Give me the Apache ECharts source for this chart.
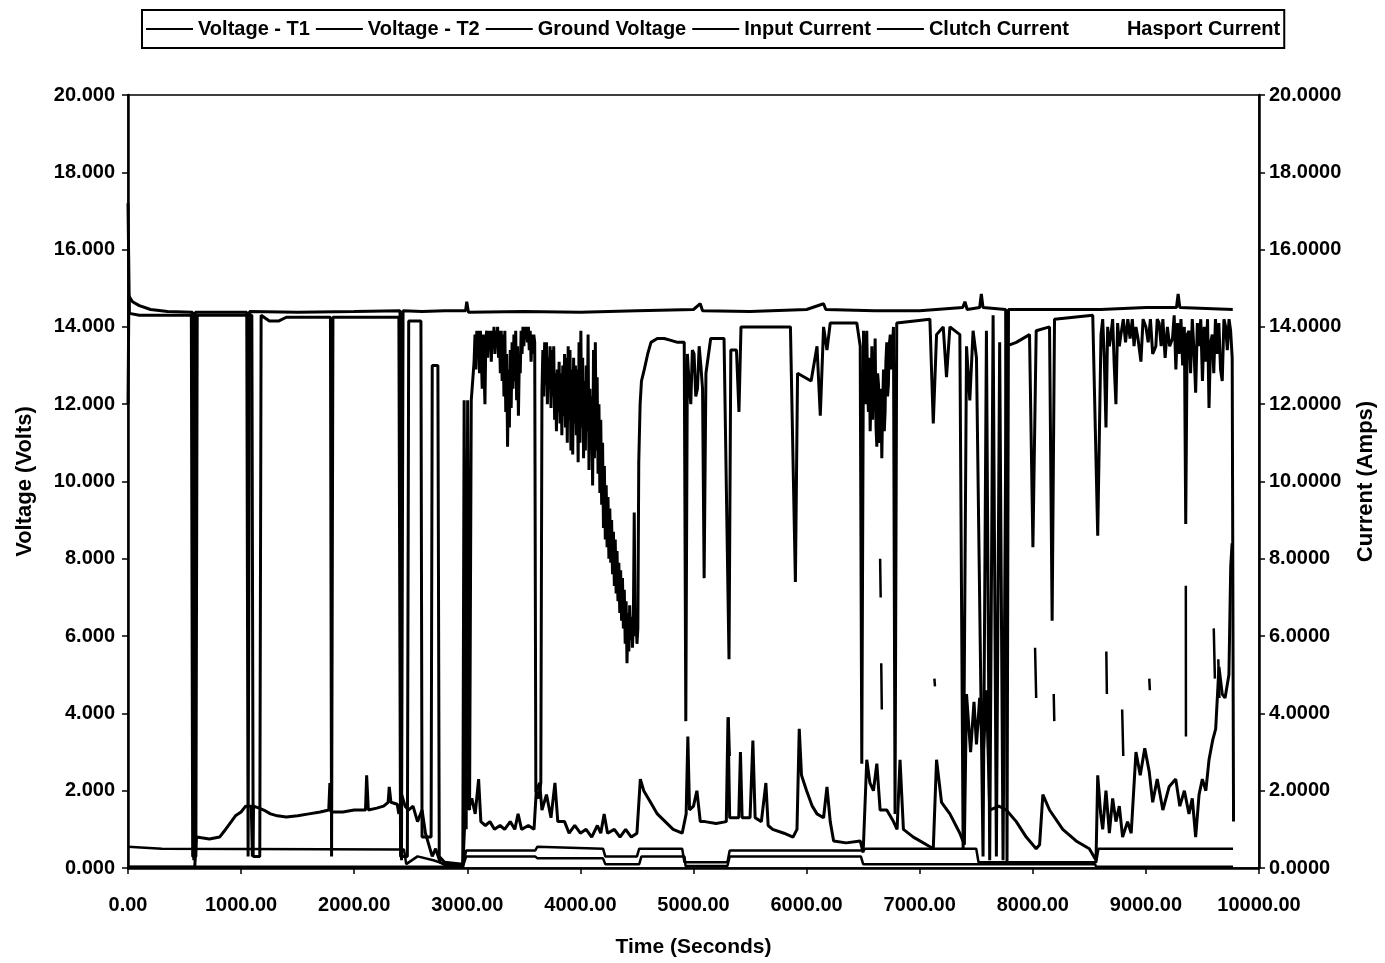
<!DOCTYPE html>
<html>
<head>
<meta charset="utf-8">
<script src="https://cdn.jsdelivr.net/npm/echarts@6/dist/echarts.min.js"></script>
<style>
html,body{margin:0;padding:0;background:#fff;}
#chart{width:1385px;height:963px;}
</style>
</head>
<body>
<div id="chart"></div>
<script>
// ---- data (time in seconds, values in volts / amps) ----
const seriesNames = ['Voltage - T1', 'Voltage - T2', 'Ground Voltage', 'Input Current', 'Clutch Current', 'Hasport Current'];

const voltageT1 = [
[0,12.0],[8,14.8],[40,14.65],[100,14.55],[200,14.45],[350,14.4],[570,14.38],[582,0.2],[595,14.38],
[1050,14.38],[1062,0.3],[1075,14.4],[1500,14.38],[2000,14.4],[2405,14.42],[2418,0.2],[2432,14.42],
[2600,14.4],[2800,14.42],[2985,14.42],[2995,14.65],[3010,14.38],[3500,14.4],[4000,14.38],[4500,14.42],
[5000,14.45],[5060,14.6],[5080,14.42],[5500,14.4],[6000,14.45],[6150,14.6],[6170,14.45],[6600,14.42],
[7000,14.42],[7380,14.5],[7400,14.65],[7420,14.45],[7530,14.5],[7545,14.85],[7560,14.5],[7760,14.45],
[7772,0.1],[7785,14.45],[8200,14.45],[8600,14.45],[9000,14.5],[9270,14.5],[9285,14.85],[9300,14.5],[9768,14.45]
];

const voltageT2 = [
[0,17.2],[12,14.35],[100,14.3],[560,14.3],[572,0.3],[600,0.3],[612,14.3],[1095,14.3],[1107,0.3],[1165,0.3],
[1177,14.3],[1250,14.15],[1330,14.15],[1400,14.25],[1790,14.25],[1800,0.3],[1812,14.25],[2395,14.25],[2410,0.3],
[2470,0.3],[2482,14.15],[2590,14.15],[2600,0.8],[2680,0.8],[2690,13.0],[2740,13.0],[2752,0.3],[2800,0.15],
[2960,0.1],[2972,12.1],[2990,1.0],[3003,12.1],[3020,1.5],[3035,12.1],
[3060,13.1],[3068,13.8],[3076,12.9],[3084,13.9],[3092,13.3],[3100,13.9],[3108,12.8],[3116,13.9],[3124,13.2],
[3132,12.4],[3140,13.8],[3148,12.9],[3156,12.0],[3164,13.7],[3172,13.9],[3180,13.2],[3188,13.9],[3196,13.4],
[3204,13.9],[3212,13.1],[3220,13.9],[3228,13.5],[3236,14.0],[3244,13.3],[3252,13.9],[3260,13.5],[3268,14.0],
[3276,13.2],[3284,13.9],[3292,12.8],[3300,13.9],[3308,12.6],[3316,13.8],[3324,12.2],[3332,13.9],[3340,11.8],
[3348,13.3],[3356,10.9],[3364,12.9],[3372,11.4],[3380,13.4],[3388,11.9],[3396,13.6],[3404,12.4],[3412,13.8],
[3420,12.6],[3428,13.9],[3436,12.1],[3444,13.5],[3452,11.7],[3460,13.2],[3468,12.8],[3476,13.9],[3484,13.3],
[3492,14.0],[3500,13.5],[3508,14.0],[3516,13.7],[3524,14.0],[3532,13.6],[3540,14.0],[3548,13.4],[3556,13.9],
[3564,13.1],[3572,13.8],[3580,13.3],[3588,13.8],[3596,13.6],[3606,2.0],[3630,1.8],[3650,2.2],
[3660,12.3],[3668,13.4],[3676,12.2],[3684,13.6],[3692,12.5],[3700,13.6],[3708,12.0],[3716,13.2],[3724,12.4],
[3732,13.5],[3740,11.9],[3748,13.4],[3756,12.2],[3764,13.5],[3772,11.6],[3780,12.8],[3788,11.3],[3796,12.9],
[3804,11.8],[3812,13.1],[3820,11.5],[3828,12.8],[3836,11.2],[3844,13.0],[3852,11.7],[3860,13.3],[3868,11.4],
[3876,13.2],[3884,11.0],[3892,13.5],[3900,11.6],[3908,13.4],[3916,10.8],[3924,12.9],[3932,10.7],[3940,13.2],
[3948,11.5],[3956,13.0],[3964,11.2],[3972,12.9],[3980,10.5],[3988,13.6],[3996,11.0],[4004,13.9],[4012,11.4],
[4020,13.2],[4028,10.6],[4036,12.6],[4044,10.8],[4052,13.0],[4060,11.3],[4068,13.8],[4076,10.3],[4084,12.4],
[4092,10.9],[4100,12.2],[4108,9.9],[4116,13.4],[4124,10.6],[4132,13.6],[4140,10.8],[4148,12.7],[4156,10.2],
[4164,12.0],[4172,9.7],[4180,11.6],[4188,9.4],[4196,11.0],[4204,8.8],[4212,10.4],[4220,8.5],[4228,9.9],
[4236,8.3],[4244,9.6],[4252,8.0],[4260,9.3],[4268,7.9],[4276,9.0],[4284,7.6],[4292,8.7],[4300,7.3],[4308,8.5],
[4316,7.1],[4324,8.2],[4332,6.9],[4340,7.9],[4348,6.6],[4356,7.7],[4364,6.4],[4372,7.5],[4380,6.2],[4388,7.2],
[4396,5.8],[4404,6.9],[4412,5.3],[4420,6.6],[4428,5.6],[4436,6.8],[4444,5.9],[4452,6.5],[4460,5.7],[4468,6.3],
[4476,9.2],[4484,6.0],[4492,6.6],[4500,5.8],[4508,6.2],[4516,10.5],[4528,12.0],[4540,12.6],[4565,12.9],
[4595,13.3],[4624,13.6],[4680,13.7],[4741,13.7],[4800,13.65],[4859,13.6],[4918,13.6],[4932,3.8],[4946,13.3],
[4960,12.6],[4976,12.0],[4990,13.4],[5005,13.3],[5020,12.2],[5035,12.4],[5050,13.5],[5065,13.0],[5080,12.4],
[5094,7.5],[5110,12.8],[5152,13.7],[5270,13.7],[5314,5.4],
[5330,13.4],[5380,13.4],[5402,11.8],[5420,14.0],[5681,14.0],[5857,14.0],[5901,7.4],[5920,12.8],[6040,12.6],
[6092,13.5],[6121,11.7],[6150,14.0],[6180,13.4],[6209,14.1],[6444,14.1],[6474,13.5],[6488,2.7],[6503,13.9],
[6510,12.4],[6518,12.0],[6525,13.6],[6532,13.9],[6540,12.3],[6547,11.8],[6555,13.2],[6562,11.3],[6570,12.2],
[6577,13.5],[6584,11.6],[6591,12.7],[6598,11.9],[6606,13.7],[6614,11.4],[6621,10.9],[6628,12.8],[6636,12.5],
[6643,11.0],[6650,11.2],[6657,12.4],[6665,10.6],[6672,11.9],[6680,12.9],[6687,11.3],[6694,11.8],[6701,13.1],
[6709,13.6],[6716,12.2],[6723,12.5],[6730,13.5],[6740,13.8],[6748,12.9],[6755,13.2],[6768,14.0],
[6782,1.4],[6797,14.1],[7090,14.2],[7120,11.5],[7149,13.8],[7208,14.0],[7237,12.7],[7267,14.0],[7355,13.8],
[7384,0.5],[7414,13.5],[7443,12.1],[7472,13.9],[7502,13.2],[7560,0.3],[7590,13.9],[7619,0.2],[7649,14.3],
[7678,0.3],[7707,13.6],[7737,0.2],[7766,13.5],[7854,13.6],[7971,13.8],[8001,8.3],[8030,13.9],[8148,14.0],
[8171,6.4],[8192,14.2],[8530,14.3],[8574,8.6],[8603,13.8],[8618,14.2],[8632,13.2],[8647,11.4],[8662,14.0],
[8677,13.5],[8691,13.8],[8706,14.2],[8720,13.0],[8735,12.0],[8750,14.1],[8765,13.5],[8779,13.8],[8800,14.2],
[8820,13.6],[8840,14.2],[8860,13.7],[8880,14.2],[8895,13.5],[8912,14.0],[8930,13.7],[8956,13.1],[8975,14.2],
[9000,14.0],[9020,13.6],[9040,14.2],[9060,13.3],[9088,13.5],[9100,14.2],[9117,14.1],[9135,13.5],[9150,14.2],
[9170,13.2],[9190,14.0],[9210,13.5],[9235,13.7],[9250,14.3],[9265,12.9],[9280,14.1],[9293,13.3],[9310,14.2],
[9325,13.0],[9340,14.0],[9352,8.9],[9365,13.8],[9381,13.9],[9395,12.8],[9410,14.2],[9425,13.4],[9440,12.3],
[9455,14.1],[9470,13.5],[9485,14.2],[9500,12.6],[9515,14.0],[9530,13.1],[9545,14.2],[9558,11.9],[9572,13.6],
[9587,13.8],[9600,12.8],[9615,14.2],[9630,13.3],[9645,14.1],[9660,12.9],[9675,12.6],[9690,14.2],[9705,14.0],
[9720,13.4],[9735,14.2],[9749,13.9],[9763,13.2],[9775,1.2]
];

const groundVoltage = [
[0,0.55],[300,0.5],[2440,0.48],[2460,0.1],[2560,0.3],[2700,0.2],[2800,0.1],[2960,0.05],[2990,0.45],
[3600,0.45],[3620,0.55],[4200,0.5],[4220,0.3],[4500,0.3],[4520,0.5],[4900,0.5],[4920,0.15],[5300,0.15],
[5320,0.45],[6500,0.45],[6520,0.5],[7500,0.5],[7520,0.15],[8560,0.15],[8580,0.5],[9770,0.5]
];

const inputCurrent = [
[0,0.02],[590,0.02],[605,0.8],[650,0.78],[720,0.75],[810,0.8],[850,0.95],[900,1.15],[950,1.35],[1000,1.45],
[1040,1.6],[1090,1.6],[1100,0.3],[1110,1.6],[1160,1.55],[1200,1.5],[1260,1.4],[1320,1.35],[1400,1.32],
[1500,1.35],[1600,1.4],[1700,1.45],[1775,1.5],[1785,2.2],[1795,1.45],[1900,1.45],[2000,1.5],[2100,1.5],
[2110,2.4],[2125,1.5],[2200,1.55],[2260,1.6],[2300,1.7],[2310,2.1],[2325,1.7],[2380,1.65],[2395,1.4],
[2420,1.9],[2450,1.6],[2480,1.5],[2520,1.6],[2560,1.2],[2600,1.5],[2630,0.9],[2660,0.6],[2690,0.3],
[2720,0.5],[2760,0.15],[2820,0.05],[2960,0.02],[2975,1.0],[2990,2.4],[3010,1.5],[3040,1.8],[3070,1.4],
[3100,2.3],[3120,1.2],[3160,1.1],[3200,1.2],[3240,1.0],[3290,1.1],[3330,1.0],[3380,1.2],[3420,1.0],
[3449,1.4],[3480,1.0],[3540,1.1],[3590,1.0],[3610,2.0],[3640,2.2],[3660,1.5],[3700,1.9],[3740,1.3],
[3775,2.2],[3800,1.2],[3860,1.2],[3900,0.9],[3950,1.1],[4000,0.9],[4050,1.0],[4100,0.8],[4150,1.1],
[4180,0.9],[4210,1.4],[4240,0.9],[4300,1.0],[4350,0.8],[4400,1.0],[4450,0.8],[4500,0.9],[4530,2.3],
[4560,2.0],[4620,1.7],[4680,1.4],[4750,1.2],[4820,1.0],[4900,0.9],[4935,1.4],[4950,3.4],[4965,1.5],
[5000,1.6],[5030,2.0],[5060,1.2],[5100,1.2],[5200,1.15],[5290,1.2],[5305,3.9],[5320,1.3],[5400,1.3],
[5415,3.0],[5430,1.3],[5500,1.3],[5525,3.3],[5545,1.3],[5600,1.2],[5640,2.2],[5660,1.1],[5700,1.0],
[5800,0.9],[5880,0.8],[5915,1.0],[5935,3.6],[5955,2.4],[6000,2.0],[6050,1.6],[6092,1.4],[6150,1.3],
[6180,2.1],[6209,1.2],[6239,0.7],[6350,0.65],[6474,0.7],[6500,0.4],[6532,2.8],[6560,2.2],[6591,2.0],
[6621,2.7],[6650,1.5],[6709,1.5],[6768,1.2],[6800,1.0],[6826,2.8],[6856,1.0],[6944,0.8],[7061,0.6],
[7120,0.5],[7149,2.8],[7193,1.7],[7267,1.4],[7355,0.9],[7395,0.6],[7414,4.5],[7450,3.0],[7480,4.3],
[7502,3.2],[7530,4.4],[7560,2.8],[7590,4.6],[7619,1.5],[7700,1.6],[7766,1.5],[7854,1.2],[7942,0.8],
[8030,0.5],[8060,0.6],[8089,1.9],[8148,1.5],[8265,1.0],[8383,0.7],[8500,0.5],[8559,0.2],[8574,2.4],
[8600,1.4],[8618,1.0],[8647,2.0],[8677,0.9],[8706,1.8],[8735,1.2],[8765,1.6],[8794,0.8],[8838,1.2],
[8870,0.9],[8912,3.0],[8950,2.4],[8990,3.1],[9029,2.5],[9060,1.7],[9100,2.3],[9150,1.5],[9205,2.1],
[9264,2.3],[9300,1.6],[9340,2.0],[9381,1.4],[9410,1.8],[9440,0.8],[9470,1.9],[9499,2.3],[9530,2.0],
[9558,2.8],[9590,3.3],[9617,3.6],[9646,5.2],[9675,4.5],[9700,4.4],[9734,5.0],[9750,7.8],[9762,8.4]
];

const clutchCurrent = [
[0,0.03],[2960,0.03],[2990,0.3],[3600,0.3],[3620,0.25],[4200,0.25],[4220,0.1],[4520,0.1],[4540,0.3],
[4920,0.3],[4930,0.05],[5300,0.05],[5320,0.3],[6480,0.3],[6500,0.1],[8550,0.1],[8560,0.03],[9770,0.03],
[9771,null],[5310,3.9],[5320,2.9],[5321,null],[6650,8.0],[6655,7.0],[6656,null],[6660,5.3],[6665,4.1],
[6666,null],[7130,4.9],[7135,4.7],[7136,null],[8020,5.7],[8030,4.4],[8031,null],[8185,4.5],[8190,3.8],
[8191,null],[8650,5.6],[8655,4.5],[8656,null],[8790,4.1],[8800,2.9],[8801,null],[9030,4.9],[9035,4.6],
[9036,null],[9353,7.3],[9354,3.4],[9355,null],[9600,6.2],[9610,4.9],[9611,null],[9640,5.4],[9650,4.4]
];

const hasportCurrent = [];

// axis ticks
const xMin = 0, xMax = 10000, xStep = 1000;
const yMin = 0, yMax = 20, yStep = 2;

// ---- chart ----
const chart = echarts.init(document.getElementById('chart'), null, {renderer: 'canvas'});
const FONT = 'Liberation Sans';
const lbl = {color: '#000', fontFamily: FONT, fontWeight: 'bold', fontSize: 20};

function lineSeries(name, data, axis, width) {
  return {
    name: name, type: 'line', data: data, yAxisIndex: axis,
    symbol: 'none', showSymbol: false, connectNulls: false, animation: false,
    lineStyle: {color: '#000', width: width},
    itemStyle: {color: '#000'},
    emphasis: {disabled: true}
  };
}

const legendData = seriesNames.map((n, i) => ({name: n, icon: i === 5 ? 'none' : 'rect'}));

chart.setOption({
  animation: false,
  backgroundColor: '#fff',
  textStyle: {fontFamily: FONT},
  legend: {
    top: 10, left: 142,
    data: legendData,
    itemWidth: 47, itemHeight: 2, itemGap: 6,
    borderColor: '#000', borderWidth: 2, padding: [9, 4, 9, 4],
    textStyle: {color: '#000', fontFamily: FONT, fontWeight: 'bold', fontSize: 20},
    selectedMode: false
  },
  grid: {left: 128, right: 114, top: 95, bottom: 92, show: true, borderColor: '#000', borderWidth: 1.5, backgroundColor: '#fff'},
  xAxis: {
    type: 'value', min: xMin, max: xMax, interval: xStep,
    axisLine: {lineStyle: {color: '#000', width: 2.5}},
    axisTick: {length: 6, lineStyle: {color: '#000', width: 1.5}},
    axisLabel: Object.assign({margin: 27, formatter: v => v.toFixed(2)}, lbl),
    splitLine: {show: false},
    name: 'Time (Seconds)', nameLocation: 'middle', nameGap: 69,
    nameTextStyle: Object.assign({}, lbl, {fontSize: 21})
  },
  yAxis: [
    {
      type: 'value', min: yMin, max: yMax, interval: yStep, position: 'left',
      axisLine: {show: true, lineStyle: {color: '#000', width: 2.5}},
      axisTick: {show: true, length: 6, lineStyle: {color: '#000', width: 1.5}},
      axisLabel: Object.assign({margin: 13, formatter: v => v.toFixed(3)}, lbl),
      splitLine: {show: false},
      name: 'Voltage (Volts)', nameLocation: 'middle', nameGap: 92,
      nameTextStyle: Object.assign({}, lbl, {fontSize: 22})
    },
    {
      type: 'value', min: yMin, max: yMax, interval: yStep, position: 'right',
      axisLine: {show: true, lineStyle: {color: '#000', width: 2.5}},
      axisTick: {show: true, length: 6, lineStyle: {color: '#000', width: 1.5}},
      axisLabel: Object.assign({margin: 10, formatter: v => v.toFixed(4)}, lbl),
      splitLine: {show: false},
      name: 'Current (Amps)', nameLocation: 'middle', nameGap: 96,
      nameTextStyle: Object.assign({}, lbl, {fontSize: 22})
    }
  ],
  series: [
    lineSeries(seriesNames[0], voltageT1, 0, 3),
    lineSeries(seriesNames[1], voltageT2, 0, 3),
    lineSeries(seriesNames[2], groundVoltage, 0, 2.5),
    lineSeries(seriesNames[3], inputCurrent, 1, 3),
    lineSeries(seriesNames[4], clutchCurrent, 1, 2.5),
    lineSeries(seriesNames[5], hasportCurrent, 1, 2)
  ]
});
</script>
</body>
</html>
